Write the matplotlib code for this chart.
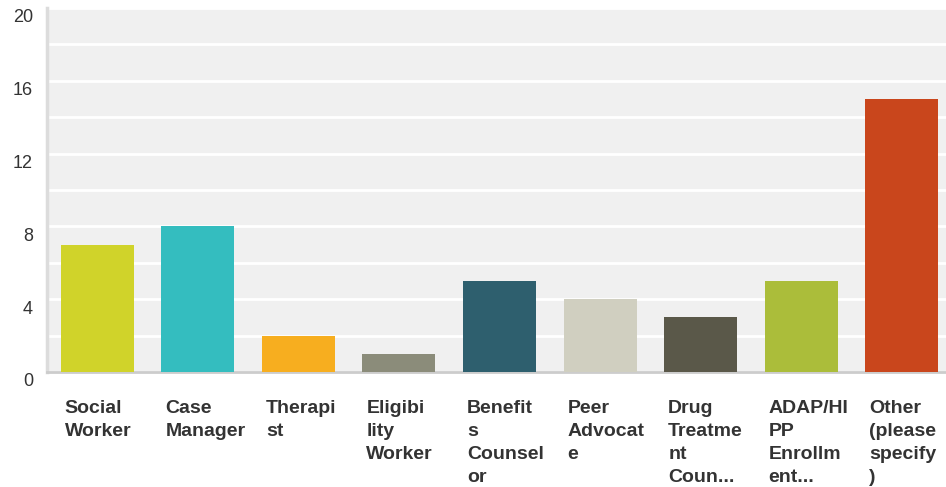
import matplotlib.pyplot as plt
import matplotlib.transforms as mtransforms
import numpy as np

plt.rcParams['font.family'] = ['Liberation Sans', 'DejaVu Sans']

# answer counts per role
labels = ['Social\nWorker', 'Case\nManager', 'Therapi\nst', 'Eligibi\nlity\nWorker',
          'Benefit\ns\nCounsel\nor', 'Peer\nAdvocat\ne', 'Drug\nTreatme\nnt\nCoun...',
          'ADAP/HI\nPP\nEnrollm\nent...', 'Other\n(please\nspecify\n)']
counts = [7, 8, 2, 1, 5, 4, 3, 5, 15]
colors = ['#d0d32a', '#34bdbf', '#f7ae1f', '#8b8c7a', '#2e5f6e',
          '#d0cfc0', '#5a5849', '#abbd3a', '#c9461c']
yticks = [0, 4, 8, 12, 16, 20]

fig = plt.figure(figsize=(9.46, 4.87), dpi=100)
ax = fig.add_axes([47/946, 115/487, 905/946, 364/487])
ax.set_facecolor('#f0f0f0')

x = np.arange(len(counts))
bar_w = 0.726
ax.bar(x, counts, width=bar_w, color=colors, zorder=3)

ax.set_xlim(-0.5, len(counts) - 0.5)
ax.set_ylim(0, 20)
ax.set_yticks(yticks)
ax.set_yticks(np.arange(0, 21, 2), minor=True)
ax.grid(axis='y', which='both', color='white', linewidth=2, zorder=1)
ax.set_xticks([])
ax.tick_params(axis='y', which='both', length=0, pad=10, labelsize=13, labelcolor='#333333')
offset = mtransforms.ScaledTranslation(0, -8/100, fig.dpi_scale_trans)
for lab in ax.get_yticklabels():
    lab.set_transform(lab.get_transform() + offset)

for s in ['top', 'right']:
    ax.spines[s].set_visible(False)
ax.spines['left'].set_color('#dcdcdc')
ax.spines['left'].set_linewidth(2.5)
ax.spines['bottom'].set_color('#cccccc')
ax.spines['bottom'].set_linewidth(2)

trans = mtransforms.blended_transform_factory(ax.transData, ax.transAxes)
for i, lab in enumerate(labels):
    ax.text(i - bar_w / 2 + 0.04, -0.076, lab, transform=trans, ha='left', va='top',
            fontsize=14, fontweight='bold', color='#333333', linespacing=1.47)

fig.savefig('out.png', dpi=100)
